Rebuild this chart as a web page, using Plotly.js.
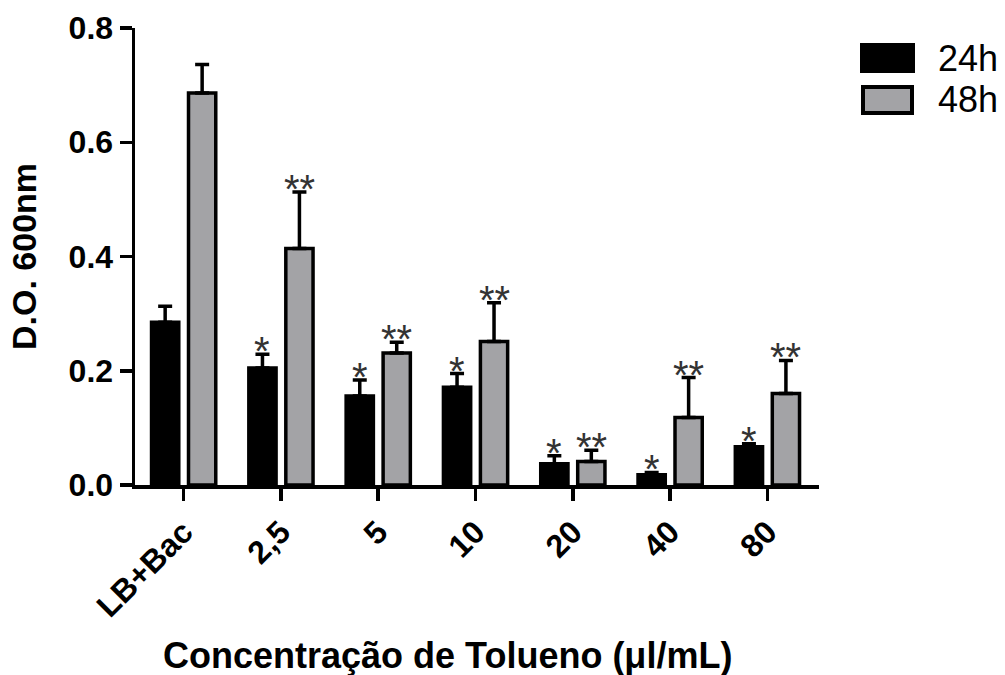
<!DOCTYPE html>
<html>
<head>
<meta charset="utf-8">
<script src="https://cdn.plot.ly/plotly-3.0.1.min.js"></script>
<style>html,body{margin:0;padding:0;background:#fff;}#chart{width:1005px;height:675px;}</style>
</head>
<body>
<div id="chart"></div>
<script>
var categories = ['LB+Bac', '2,5', '5', '10', '20', '40', '80'];
var seriesNames = ['24h', '48h'];
var values24 = [0.285, 0.205, 0.156, 0.171, 0.037, 0.018, 0.067];
var errors24 = [0.028, 0.024, 0.028, 0.024, 0.014, 0.004, 0.005];
var values48 = [0.686, 0.414, 0.231, 0.251, 0.041, 0.118, 0.160];
var errors48 = [0.050, 0.099, 0.019, 0.068, 0.020, 0.070, 0.058];
var sig24 = ['', '*', '*', '*', '*', '*', '*'];
var sig48 = ['', '**', '**', '**', '**', '**', '**'];
var yTicks = [0, 0.2, 0.4, 0.6, 0.8];
var yTickLabels = ['0.0', '0.2', '0.4', '0.6', '0.8'];
var xTitle = 'Concentração de Tolueno (μl/mL)';
var yTitle = 'D.O. 600nm';

var FONT = 'Liberation Sans, Arial, Helvetica, sans-serif';
var BW = 0.28, OFF24 = -0.33, OFF48 = 0.05;
var zeros = categories.map(function(){return 0;});

var W = 1005, H = 675, ML = 135, MR = 186, MT = 28, MB = 190;
var pw = W - ML - MR, ph = H - MT - MB;
function px2x(p){ return (p - ML) / pw; }
function py2y(p){ return (H - MB - p) / ph; }

function barTrace(name, vals, errs, off, color){
  return {
    type: 'bar', name: name, x: categories, y: vals,
    width: BW, offset: off,
    marker: {color: color, line: {color: '#000', width: 3.5}},
    error_y: {type: 'data', symmetric: false, array: errs, arrayminus: zeros,
              color: '#000', thickness: 3.5, width: 7},
    showlegend: false, hoverinfo: 'x+y'
  };
}

var data = [
  barTrace(seriesNames[0], values24, errors24, OFF24, '#000000'),
  barTrace(seriesNames[1], values48, errors48, OFF48, '#a3a3a6')
];

var starFont = {family: 'Liberation Sans, Arial, sans-serif', size: 40, color: '#333'};
var annotations = [];
categories.forEach(function(c, i){
  if (sig24[i]) annotations.push({x: i + OFF24 + BW/2, y: values24[i] + errors24[i], xref: 'x', yref: 'y',
    text: sig24[i], showarrow: false, yanchor: 'middle', yshift: 3, font: starFont});
  if (sig48[i]) annotations.push({x: i + OFF48 + BW/2, y: values48[i] + errors48[i], xref: 'x', yref: 'y',
    text: sig48[i], showarrow: false, yanchor: 'middle', yshift: 3, font: starFont});
});
// x-axis title
annotations.push({x: px2x(447), y: py2y(655), xref: 'paper', yref: 'paper', yanchor: 'middle', xanchor: 'center',
  text: xTitle, showarrow: false, font: {family: FONT, size: 36, color: '#000', weight: 'bold'}});
// legend labels
annotations.push({x: px2x(936), y: py2y(58), xref: 'paper', yref: 'paper', xanchor: 'left', yanchor: 'middle',
  text: seriesNames[0], showarrow: false, font: {family: FONT, size: 36, color: '#000'}});
annotations.push({x: px2x(936), y: py2y(100), xref: 'paper', yref: 'paper', xanchor: 'left', yanchor: 'middle',
  text: seriesNames[1], showarrow: false, font: {family: FONT, size: 36, color: '#000'}});

var shapes = [
  {type: 'rect', xref: 'paper', yref: 'paper', x0: px2x(861), x1: px2x(914), y0: py2y(72), y1: py2y(44),
   fillcolor: '#000', line: {color: '#000', width: 2}},
  {type: 'rect', xref: 'paper', yref: 'paper', x0: px2x(863), x1: px2x(912), y0: py2y(113), y1: py2y(87),
   fillcolor: '#a3a3a6', line: {color: '#000', width: 4}}
];

var layout = {
  width: W, height: H,
  margin: {l: ML, r: MR, t: MT, b: MB, pad: 0},
  paper_bgcolor: '#fff', plot_bgcolor: '#fff',
  font: {family: FONT, color: '#000'},
  barmode: 'group',
  xaxis: {
    type: 'category', range: [-0.5, 6.53], showgrid: false, zeroline: false,
    showline: true, linecolor: '#000', linewidth: 3.5,
    ticks: 'outside', ticklen: 12, tickwidth: 3.5, tickcolor: '#000',
    tickangle: -45, tickfont: {family: FONT, size: 32, color: '#000', weight: 'bold'},
    automargin: false
  },
  yaxis: {
    range: [0, 0.8], showgrid: false, zeroline: false,
    showline: true, linecolor: '#000', linewidth: 3.5,
    ticks: 'outside', ticklen: 12, tickwidth: 3.5, tickcolor: '#000',
    tickvals: yTicks, ticktext: yTickLabels,
    tickfont: {family: FONT, size: 32, color: '#000', weight: 'bold'},
    title: {text: yTitle, font: {family: FONT, size: 34, color: '#000', weight: 'bold'}, standoff: 22},
    automargin: false
  },
  annotations: annotations,
  shapes: shapes,
  showlegend: false
};

Plotly.newPlot('chart', data, layout, {staticPlot: true, displayModeBar: false});
</script>
</body>
</html>
